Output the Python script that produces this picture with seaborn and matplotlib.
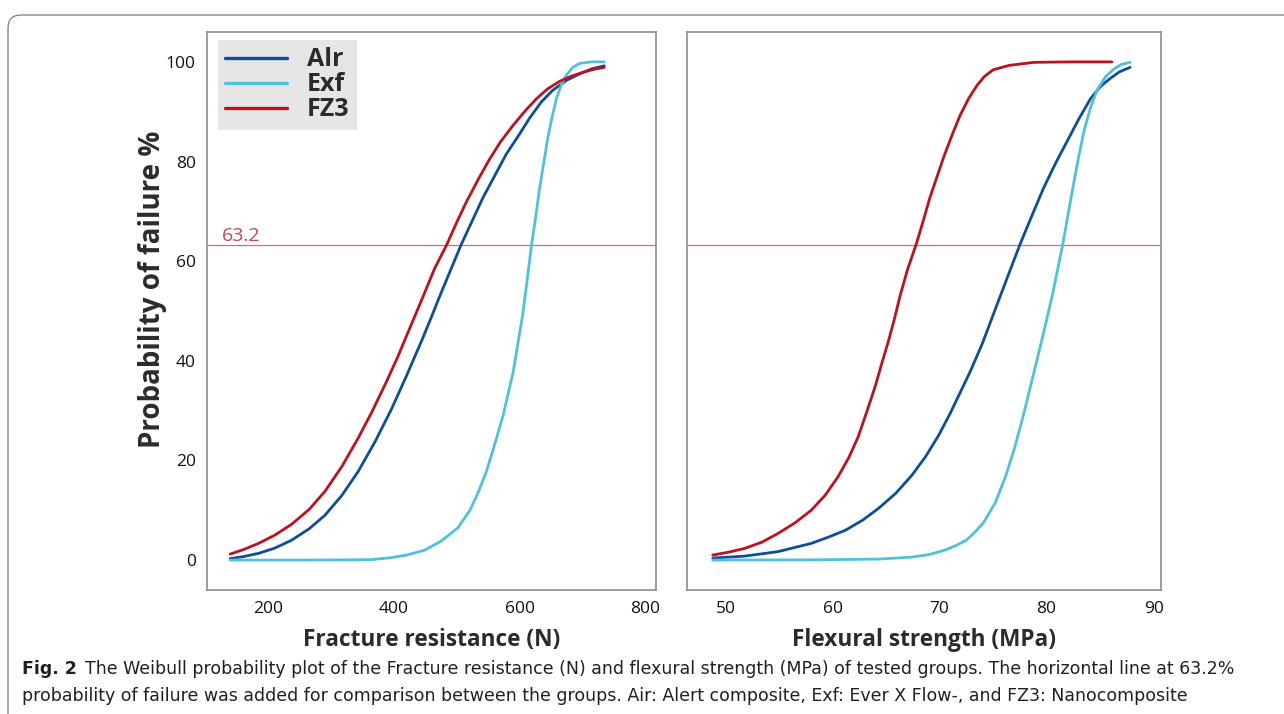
import numpy as np
import pandas as pd
import matplotlib
matplotlib.use('Agg')
import matplotlib.pyplot as plt
import seaborn as sns
from matplotlib.lines import Line2D
from matplotlib.patches import FancyBboxPatch

groups = ['Alr', 'Exf', 'FZ3']
colors = ['#0c4e98', '#4dc2db', '#c0101c']

# Fracture resistance (N)
fr_alr_x = [139, 160, 184, 210, 237, 265, 290, 317, 343, 370, 396, 420, 446, 460, 473, 507, 542,
            579, 600, 616, 635, 653, 675, 696, 715, 735]
fr_alr_p = [0.3, 0.7, 1.35, 2.4, 4.0, 6.3, 9.0, 13.0, 17.8, 23.8, 30.3, 37.0, 44.6, 48.9, 53.0,
            63.3, 72.8, 81.5, 85.5, 88.7, 92.0, 94.3, 96.3, 97.6, 98.6, 99.2]
fr_exf_x = [139, 250, 330, 365, 396, 420, 449, 475, 502, 521, 534, 547, 560, 574, 590, 605, 612,
            619, 626, 632, 639, 645, 652, 659, 667, 675, 685, 696, 715, 735]
fr_exf_p = [0.0, 0.0, 0.05, 0.1, 0.5, 1.0, 2.0, 3.8, 6.5, 10.0, 13.5, 17.7, 23.0, 29.1, 37.8,
            49.2, 56.0, 63.1, 69.0, 74.6, 80.0, 84.7, 89.0, 92.7, 95.5, 97.4, 98.9, 99.7, 100.0, 100.0]
fr_fz3_x = [139, 160, 184, 210, 237, 265, 290, 317, 343, 365, 388, 406, 425, 446, 465, 484, 500, 515,
            535, 552, 570, 590, 610, 627, 645, 664, 682, 701, 718, 735]
fr_fz3_p = [1.2, 2.1, 3.35, 5.0, 7.2, 10.2, 13.8, 18.8, 24.5, 29.8, 35.8, 40.8, 46.5, 52.8, 58.6,
            63.3, 67.8, 71.8, 76.6, 80.4, 84.0, 87.3, 90.3, 92.6, 94.6, 96.1, 97.1, 97.9, 98.5, 98.9]

# Flexural strength (MPa)
fs_alr_x = [48.8, 51.8, 54.9, 58.0, 59.6, 61.2, 62.8, 64.3, 65.9, 67.4, 68.7, 69.9, 71.0, 72.85,
            74.0, 75.0, 76.2, 77.5, 78.6, 79.7, 80.8, 81.9, 83.0, 84.1, 85.0, 85.9, 86.8, 87.8]
fs_alr_p = [0.4, 0.8, 1.7, 3.35, 4.6, 6.0, 8.0, 10.4, 13.4, 17.0, 20.8, 25.0, 29.5, 37.8,
            43.5, 49.2, 56.0, 63.3, 69.0, 74.6, 79.5, 84.0, 88.5, 92.6, 95.0, 96.6, 98.0, 98.9]
fs_exf_x = [48.8, 58.0, 64.3, 67.4, 69.0, 70.5, 71.5, 72.5, 73.3, 74.1, 75.2, 76.2, 77.0, 77.8,
            78.6, 79.4, 80.0, 80.6, 81.5, 82.0, 82.5, 83.0, 83.5, 84.1, 84.7, 85.5, 86.3, 87.0, 87.8]
fs_exf_p = [0.0, 0.05, 0.2, 0.6, 1.1, 2.0, 2.9, 4.0, 5.6, 7.5, 11.5, 17.0, 22.5, 28.8,
            35.8, 42.8, 48.2, 53.8, 63.3, 69.3, 75.3, 81.0, 86.2, 90.8, 94.3, 97.0, 98.6, 99.5, 99.9]
fs_fz3_x = [48.8, 50.3, 51.8, 53.4, 54.9, 56.5, 58.0, 59.3, 60.5, 61.5, 62.4, 63.2, 64.0, 64.6,
            65.2, 65.8, 66.3, 67.0, 67.8, 68.5, 69.1, 69.8, 70.4, 71.2, 71.9, 72.7, 73.5, 74.2,
            75.0, 76.5, 78.8, 82.0, 86.1]
fs_fz3_p = [1.0, 1.6, 2.35, 3.6, 5.35, 7.5, 10.0, 13.0, 16.7, 20.5, 24.8, 29.8, 35.0, 39.5,
            43.8, 48.6, 53.0, 58.3, 63.3, 68.3, 72.8, 77.2, 81.0, 85.5, 89.2, 92.6, 95.3, 97.1,
            98.4, 99.3, 99.9, 100.0, 100.0]

ref_level = 63.2


def long_df(series):
    parts = []
    for name, (xs, ps) in zip(groups, series):
        parts.append(pd.DataFrame({'value': xs, 'prob': ps, 'group': name}))
    return pd.concat(parts, ignore_index=True)


fr_df = long_df([(fr_alr_x, fr_alr_p), (fr_exf_x, fr_exf_p), (fr_fz3_x, fr_fz3_p)])
fs_df = long_df([(fs_alr_x, fs_alr_p), (fs_exf_x, fs_exf_p), (fs_fz3_x, fs_fz3_p)])

sns.set_style('white')
plt.rcParams['font.family'] = ['Open Sans', 'DejaVu Sans']

fig = plt.figure(figsize=(12.84, 7.14), dpi=100)
ax1 = fig.add_axes([0.1612, 0.1737, 0.3497, 0.7815])
ax2 = fig.add_axes([0.5351, 0.1737, 0.3692, 0.7815])
pal = dict(zip(groups, colors))

for ax, df in [(ax1, fr_df), (ax2, fs_df)]:
    # reference line at 63.2 % (characteristic strength)
    ax.axhline(ref_level, color='#e06a6a', lw=0.9, zorder=1)
    sns.lineplot(data=df, x='value', y='prob', hue='group', hue_order=groups,
                 palette=pal, estimator=None, linewidth=2.0, legend=False, ax=ax, zorder=3)
    ax.set_ylim(-6, 106)
    ax.set_yticks([0, 20, 40, 60, 80, 100])
    for s in ax.spines.values():
        s.set_color('#8c8c8c')
        s.set_linewidth(1.2)
    ax.tick_params(axis='both', colors='#8c8c8c', labelcolor='#111111',
                   labelsize=12.5, length=5, width=1, pad=3, direction='out')

ax1.set_xlim(102, 817.5)
ax1.set_xticks([200, 400, 600, 800])
ax2.set_xlim(46.4, 90.7)
ax2.set_xticks([50, 60, 70, 80, 90])
ax2.tick_params(axis='y', left=False, labelleft=False)

ax1.set_xlabel('Fracture resistance (N)', labelpad=8, fontsize=16.3, fontweight='bold', color='#2b2b2b')
ax2.set_xlabel('Flexural strength (MPa)', labelpad=8, fontsize=16.3, fontweight='bold', color='#2b2b2b')
ax1.set_ylabel('Probability of failure %', fontsize=20, fontweight='bold', color='#2b2b2b')
ax1.yaxis.set_label_coords(-0.09, 0.539)
ax2.set_ylabel('')

ax1.text(126, 64.0, '63.2', color='#c24a4a', fontsize=14, ha='left', va='baseline')

handles = [Line2D([0], [0], color=c, lw=2.4) for c in colors]
leg = ax1.legend(handles, groups, loc='upper left', bbox_to_anchor=(0.0245, 0.9857),
                 borderaxespad=0, frameon=True, fancybox=False, facecolor='#e6e6e6',
                 edgecolor='none', framealpha=1, labelspacing=0.0, borderpad=0.3,
                 handlelength=2.45, handletextpad=0.8, prop={'size': 18, 'weight': 'bold'},
                 labelcolor='#2b2b2b')

# caption under the panels
cap_y1 = 1 - 669 / 714
cap_y2 = 1 - 696 / 714
fig_lab = fig.text(22 / 1284, cap_y1, 'Fig. 2', fontsize=12.5, fontweight='bold',
                   family='DejaVu Sans', color='#231f20', va='center')
fig.canvas.draw()
bb = fig_lab.get_window_extent()
fig.text((bb.x1 + 8) / 1284, cap_y1,
         'The Weibull probability plot of the Fracture resistance (N) and flexural strength (MPa) '
         'of tested groups. The horizontal line at 63.2%',
         fontsize=12.5, family='DejaVu Sans', color='#231f20', va='center')
fig.text(22 / 1284, cap_y2,
         'probability of failure was added for comparison between the groups. Air: Alert composite, '
         'Exf: Ever X Flow-, and FZ3: Nanocomposite',
         fontsize=12.5, family='DejaVu Sans', color='#231f20', va='center')

# rounded outer frame of the figure
frame = FancyBboxPatch((0.08, -0.4), 13.2, 7.14 - 0.15 + 0.4,
                       boxstyle='round,pad=0,rounding_size=0.13',
                       transform=fig.dpi_scale_trans, fill=False,
                       edgecolor='#7a7a7a', lw=0.9)
fig.add_artist(frame)

fig.savefig('out.png', dpi=100)
